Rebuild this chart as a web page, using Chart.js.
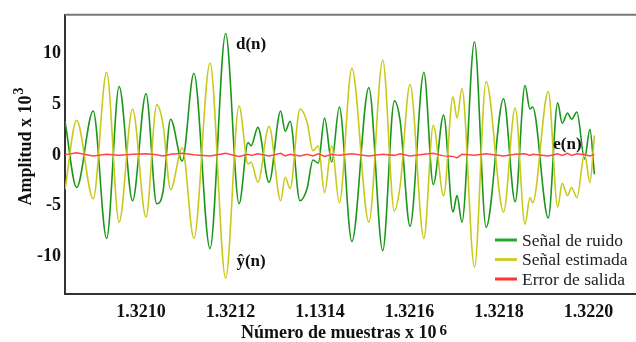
<!DOCTYPE html>
<html lang="es">
<head>
<meta charset="UTF-8">
<title>Señal de ruido, señal estimada y error</title>
<script src="https://cdn.jsdelivr.net/npm/chart.js"></script>
<style>
  body { margin:0; background:#fff; }
  #wrap { width:636px; height:342px; }
</style>
</head>
<body>
<div id="wrap"><canvas id="ruidoChart"></canvas></div>
<script>
const muestras = [
  1320830, 1320856, 1320893, 1320923, 1320951, 1320981, 1321011, 1321035, 1321049, 1321066,
  1321092, 1321118, 1321154, 1321189, 1321219, 1321239, 1321246, 1321261, 1321286, 1321312,
  1321322, 1321333, 1321355, 1321371, 1321384, 1321396, 1321410, 1321426, 1321443, 1321471,
  1321509, 1321540, 1321566, 1321579, 1321601, 1321632, 1321653, 1321676, 1321697, 1321706,
  1321717, 1321745, 1321771, 1321810, 1321836, 1321858, 1321869, 1321875, 1321910, 1321931,
  1321941, 1321953, 1321962, 1321974, 1321991, 1322003, 1322013
];
// d(n) - señal de ruido
const ruido = [
   3.3, -3.2,  4.3, -8.2,  6.7, -4.5,  6.0, -4.8, -3.6,  3.5,
  -0.6,  8.0, -9.2, 11.9, -4.8,  1.2,  0.9,  2.7, -2.7,  4.3,
   2.3,  3.3, -4.5, -3.3, -0.5, -0.8,  3.6, -0.7,  4.7, -8.5,
   6.6, -9.4,  5.3,  3.3, -7.0,  8.1, -2.9,  3.9, -5.6, -4.0,
  -6.6, 11.1, -7.1,  5.5, -4.6,  6.8,  4.5,  4.7, -6.2,  5.1,
   3.1,  4.1,  3.5,  4.2, -0.4,  2.5, -1.9
];
// y^(n) - señal estimada
const estimada = [
  -3.4,  3.4, -4.3,  8.1, -6.6,  4.5, -6.1,  4.9,  3.0, -3.4,
   0.7, -8.2,  9.0, -12.1, 4.8, -0.9, -0.7, -2.7,  2.8, -4.5,
  -2.2, -3.3,  4.5,  3.2,  0.4,  0.9, -3.7,  0.9, -4.7,  8.5,
  -6.6,  9.3, -5.5, -3.0,  6.9, -8.2,  2.9, -4.0,  5.7,  3.6,
   6.5, -11.0, 7.2, -5.6,  4.6, -6.8, -4.2, -4.7,  6.2, -5.1,
  -2.8, -4.0, -3.2, -4.2,  0.1, -2.7,  1.9
];
// e(n) - error de salida
const error = [
   0.0,  0.2, -0.1,  0.05, -0.05, 0.05, 0.1,  0.0, -0.1,  0.05,
   0.15, 0.0, -0.1,  0.15, -0.15, 0.05, -0.05, 0.1, -0.1,  0.15,
  -0.1,  0.05, -0.1, 0.05, -0.1,  0.1, -0.15, 0.05, -0.05, 0.1,
  -0.1,  0.05, -0.05, 0.1, -0.1,  0.05, 0.15, -0.1, -0.15, -0.3,
   0.05, -0.05, 0.1, -0.1,  0.05, 0.1, -0.05, 0.05, -0.1,  0.1,
  -0.05, 0.15, -0.05, 0.1,  0.0, -0.1,  0.05
];
const ticksX = [1321000, 1321200, 1321400, 1321600, 1321800, 1322000];
const etiquetasX = ['1.3210', '1.3212', '1.1314', '1.3216', '1.3218', '1.3220'];
const ticksY = [-10, -5, 0, 5, 10];
const nombres = ['Señal de ruido', 'Señal estimada', 'Error de salida'];

const serif = "'Liberation Serif', 'Times New Roman', serif";
const pts = arr => muestras.map((m, i) => ({ x: m, y: arr[i] }));

// titulos, leyenda y anotaciones
const extras = {
  id: 'extras',
  afterDraw(chart) {
    const { ctx, chartArea: a, scales: { x, y } } = chart;
    ctx.save();
    // linea superior
    ctx.strokeStyle = '#777'; ctx.lineWidth = 2;
    ctx.beginPath(); ctx.moveTo(a.left, a.top); ctx.lineTo(chart.width, a.top); ctx.stroke();

    ctx.fillStyle = '#111';
    ctx.textBaseline = 'alphabetic';
    ctx.textAlign = 'left';
    // titulo y
    ctx.save();
    ctx.translate(31, 147);
    ctx.rotate(-Math.PI / 2);
    ctx.font = 'bold 18px ' + serif;
    let t1 = 'Amplitud x 10', w1 = ctx.measureText(t1).width;
    ctx.font = 'bold 14px ' + serif;
    let w2 = ctx.measureText('3').width;
    ctx.font = 'bold 18px ' + serif;
    ctx.fillText(t1, -(w1 + w2) / 2, 0);
    ctx.font = 'bold 14px ' + serif;
    ctx.fillText('3', -(w1 + w2) / 2 + w1 + 1, -8);
    ctx.restore();
    // titulo x
    ctx.font = 'bold 18px ' + serif;
    t1 = 'Número de muestras x 10'; w1 = ctx.measureText(t1).width;
    ctx.font = 'bold 15px ' + serif;
    w2 = ctx.measureText('6').width;
    const x0 = 344 - (w1 + w2 + 3) / 2;
    ctx.font = 'bold 18px ' + serif;
    ctx.fillText(t1, x0, 338);
    ctx.font = 'bold 15px ' + serif;
    ctx.fillText('6', x0 + w1 + 3, 335);

    // anotaciones
    ctx.font = 'bold 17px ' + serif;
    ctx.fillText('d(n)', x.getPixelForValue(1321212), y.getPixelForValue(10.4));
    ctx.fillText('ŷ(n)', x.getPixelForValue(1321213), y.getPixelForValue(-10.9));
    ctx.fillText('e(n)', x.getPixelForValue(1321921), y.getPixelForValue(0.6));

    // leyenda
    ctx.font = '17.5px ' + serif;
    ctx.textBaseline = 'middle';
    chart.data.datasets.forEach((ds, i) => {
      const yy = 240 + i * 19.5;
      ctx.strokeStyle = ds.legendColor; ctx.lineWidth = 3;
      ctx.beginPath(); ctx.moveTo(495, yy); ctx.lineTo(517, yy); ctx.stroke();
      ctx.fillStyle = '#222';
      ctx.fillText(ds.label, 522, yy + 1);
    });
    ctx.restore();
  }
};

new Chart(document.getElementById('ruidoChart'), {
  type: 'line',
  data: {
    datasets: [
      { label: nombres[0], data: pts(ruido), borderColor: '#1b961b', legendColor: '#2aa52a',
        borderWidth: 1.6, pointRadius: 0, tension: 0.4, cubicInterpolationMode: 'monotone', order: 2 },
      { label: nombres[1], data: pts(estimada), borderColor: '#c9c91c', legendColor: '#cccc33',
        borderWidth: 1.6, pointRadius: 0, tension: 0.4, cubicInterpolationMode: 'monotone', order: 1 },
      { label: nombres[2], data: pts(error), borderColor: '#ff4646', legendColor: '#ff3333',
        borderWidth: 1.5, pointRadius: 0, tension: 0, order: 0 }
    ]
  },
  options: {
    responsive: true, maintainAspectRatio: false, animation: false,
    layout: { padding: { top: 13, right: 0, left: 0, bottom: 0 } },
    plugins: { legend: { display: false }, tooltip: { enabled: false } },
    scales: {
      x: {
        type: 'linear', min: 1320830, max: 1322106,
        afterBuildTicks: s => { s.ticks = ticksX.map(v => ({ value: v })); },
        afterFit: s => { s.height = 48; },
        ticks: { autoSkip: false, maxRotation: 0, padding: 8, color: '#111',
                 font: { family: serif, size: 18, weight: 'bold' },
                 callback: v => etiquetasX[ticksX.indexOf(v)] },
        grid: { display: false, drawTicks: false },
        border: { display: true, color: '#333', width: 2 }
      },
      y: {
        min: -13.65, max: 13.74,
        afterBuildTicks: s => { s.ticks = ticksY.map(v => ({ value: v })); },
        afterFit: s => { s.width = 65; },
        ticks: { padding: 4, color: '#111',
                 font: { family: serif, size: 18, weight: 'bold' } },
        grid: { display: false, drawTicks: false },
        border: { display: true, color: '#333', width: 2 }
      }
    }
  },
  plugins: [extras]
});
</script>
</body>
</html>
